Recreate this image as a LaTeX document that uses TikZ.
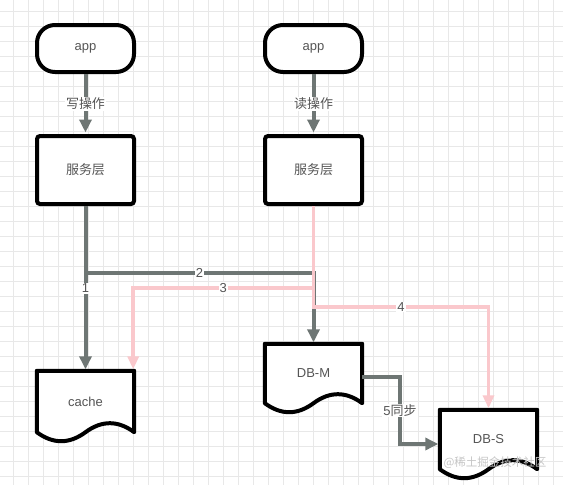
\documentclass[tikz,border=0pt]{standalone}
\usepackage{fontspec}
\setmainfont{Liberation Sans}
\newfontfamily\cjk{Noto Sans CJK SC}
\usetikzlibrary{arrows.meta,calc}
\definecolor{lgray}{RGB}{110,118,116}
\definecolor{lpink}{RGB}{250,200,204}
\definecolor{txt}{RGB}{85,85,85}
\definecolor{gridc}{RGB}{232,232,232}
\pgfdeclarelayer{bg}\pgfdeclarelayer{mid}\pgfsetlayers{bg,mid,main}
\begin{document}
\begin{tikzpicture}[x=1pt,y=-1pt,
  box/.style={draw=black, line width=4pt, fill=white, text=txt, font=\fontsize{13}{15}\selectfont, minimum width=97pt, inner sep=0pt},
  appbox/.style={box, minimum height=47pt, rounded corners=18pt},
  svcbox/.style={box, minimum height=68pt, rounded corners=3pt},
  docbox/.style={draw=none, text=txt, font=\fontsize{13}{15}\selectfont, minimum width=97pt, inner sep=0pt},
  docline/.style={draw=black, line width=4pt, fill=white, line join=round},
  garrow/.style={draw=lgray, line width=4pt, -{Triangle[length=13pt,width=12pt]}, shorten >=1.5pt},
  parrow/.style={draw=lpink, line width=3.8pt, -{Triangle[length=13pt,width=11pt]}, shorten >=1.5pt},
  lbl/.style={fill=white, text=txt, font=\fontsize{13}{15}\selectfont, inner sep=1pt}]
\useasboundingbox (0,0) rectangle (563,485);
\begin{pgfonlayer}{bg}
\fill[white] (0,0) rectangle (563,485);
\foreach \i in {0,...,36} \draw[gridc, line width=1pt] ({13.3+15*\i},0) -- ({13.3+15*\i},485);
\foreach \j in {0,...,31} \draw[gridc, line width=1pt] (0,{11.7+15*\j}) -- (563,{11.7+15*\j});
\end{pgfonlayer}

\node[appbox] (a1) at (85.5,48.5) {app};
\node[appbox] (a2) at (313.5,48.5) {app};
\node[svcbox] (s1) at (85.5,170) {\cjk 服务层};
\node[svcbox] (s2) at (313.5,170) {\cjk 服务层};
\node[docbox, minimum height=61pt] (cache) at (85.5,401.5) {cache};
\node[docbox, minimum height=59pt] (dbm) at (313.5,373.5) {DB-M};
\node[docbox, minimum height=59pt] (dbs) at (488.5,439.5) {DB-S};

\begin{pgfonlayer}{mid}
\foreach \n in {cache,dbm,dbs}
  \draw[docline] (\n.south west) .. controls +(16.2,12) and +(-16.2,12) .. (\n.south)
     .. controls +(16.2,-12) and +(-16.2,-12) .. (\n.south east) -- (\n.north east) -- (\n.north west) -- cycle;
\end{pgfonlayer}

\coordinate (h2) at (0,273);
\coordinate (h3) at (0,288);
\coordinate (h4) at (0,307);
\coordinate (v5) at (400,0);
\coordinate (c3) at ($(cache.north east)+(-1,0)$);
\coordinate (m5) at ($(dbm.east)+(0,3.5)$);
\coordinate (e5) at ($(dbs.west)+(0,4.5)$);

\draw[garrow] (a1.south) -- node[lbl]{\cjk 写操作} (s1.north);
\draw[garrow] (a2.south) -- node[lbl]{\cjk 读操作} (s2.north);
\draw[garrow] (s1.south) -- node[lbl]{1} (cache.north);
\draw[garrow] (s1.south) -- (s1.south |- h2) -- node[lbl]{2} (s2.south |- h2) -- (dbm.north);
\draw[garrow] (m5) -- (v5 |- m5) -- node[lbl]{5\cjk 同步} (v5 |- e5) -- (e5);
\draw[parrow] (s2.south) -- (s2.south |- h3) -- node[lbl]{3} (c3 |- h3) -- (c3);
\draw[parrow] (s2.south) -- (s2.south |- h4) -- node[lbl]{4} (dbs.north |- h4) -- (dbs.north);

\node[text=gray!45, font=\cjk\fontsize{11.5}{13}\selectfont, inner sep=0pt] (wm) at (495,463) {@稀土掘金技术社区};
\end{tikzpicture}
\end{document}
